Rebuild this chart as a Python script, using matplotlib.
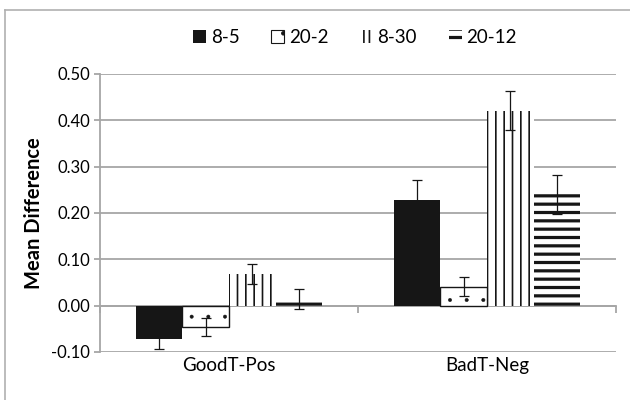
import numpy as np
import matplotlib
matplotlib.use("Agg")
from matplotlib import pyplot as plt
from matplotlib.patches import Patch
from matplotlib.lines import Line2D

# values
categories = ["GoodT-Pos", "BadT-Neg"]
series = ["8-5", "20-2", "8-30", "20-12"]
means = {
    "8-5": [-0.071, 0.229],
    "20-2": [-0.046, 0.041],
    "8-30": [0.069, 0.421],
    "20-12": [0.015, 0.240],
}
errors = {
    "8-5": [0.022, 0.043],
    "20-2": [0.020, 0.021],
    "8-30": [0.022, 0.042],
    "20-12": [0.022, 0.043],
}
yticks = [-0.10, 0.00, 0.10, 0.20, 0.30, 0.40, 0.50]

# fill / hatch per series (bar hatch, legend hatch, edge width, hatch width)
styles = {
    "8-5": dict(facecolor="#161616", hatch=None, lhatch=None, lw=0.0, hlw=1.0),
    "20-2": dict(facecolor="white", hatch=".", lhatch=".", lw=1.0, hlw=0.35),
    "8-30": dict(facecolor="white", hatch="||", lhatch="|||", lw=0.0, hlw=1.2),
    "20-12": dict(facecolor="white", hatch="--", lhatch="--", lw=0.0, hlw=2.3),
}

plt.rcParams["font.family"] = ["Lato", "DejaVu Sans"]
grid_col = "#a6a6a6"
ink = "#161616"


def set_hlw(patch, lw):
    """per-patch hatch line width, where matplotlib supports it"""
    if hasattr(patch, "set_hatch_linewidth"):
        patch.set_hatch_linewidth(lw)
    elif hasattr(patch, "_hatch_linewidth"):
        patch._hatch_linewidth = lw


def main():
    fig = plt.figure(figsize=(6.3, 4.0), dpi=100)
    ax = fig.add_axes([0.1587, 0.12, 0.8190, 0.695])

    x = np.arange(len(categories))
    width = 0.181
    offsets = (np.arange(len(series)) - 1.5) * width

    for i, name in enumerate(series):
        st = styles[name]
        with plt.rc_context({"hatch.linewidth": st["hlw"]}):
            bars = ax.bar(x + offsets[i], means[name], width,
                          color=st["facecolor"], edgecolor=ink,
                          linewidth=st["lw"], hatch=st["hatch"], zorder=2)
        for b in bars:
            set_hlw(b, st["hlw"])
        ax.errorbar(x + offsets[i], means[name], yerr=errors[name], fmt="none",
                    ecolor=ink, elinewidth=0.9, capsize=3.5, capthick=0.9,
                    zorder=3)

    ax.set_xlim(-0.5, 1.5)
    ax.set_ylim(-0.10, 0.50)
    ax.set_yticks(yticks)
    ax.set_yticklabels([f"{v:.2f}" for v in yticks], fontsize=12)
    ax.yaxis.grid(True, color=grid_col, linewidth=1.3, zorder=0)
    ax.set_axisbelow(True)

    # spines: left gray, bottom at zero like Excel
    for s in ["top", "right"]:
        ax.spines[s].set_visible(False)
    ax.spines["left"].set_color(grid_col)
    ax.spines["left"].set_linewidth(1.3)
    ax.spines["bottom"].set_position(("data", 0))
    ax.spines["bottom"].set_color(grid_col)
    ax.spines["bottom"].set_linewidth(1.3)
    ax.spines["bottom"].set_zorder(1)
    ax.tick_params(axis="y", length=4, width=1.3, color=grid_col, pad=3)

    ax.set_xticks([-0.5, 0.5, 1.5])
    ax.set_xticklabels([])
    ax.tick_params(axis="x", which="major", length=5, width=1.3,
                   color=grid_col, direction="out")
    ax.set_xticks(x, minor=True)
    ax.set_xticklabels(categories, minor=True, fontsize=13.5)
    ax.tick_params(axis="x", which="minor", length=0, pad=37)

    ax.set_ylabel("Mean Difference", fontsize=14.5, fontweight="bold")
    ax.yaxis.set_label_coords(-0.108, 0.5)

    # legend
    handles = []
    for name in series:
        st = styles[name]
        handles.append(Patch(facecolor=st["facecolor"], edgecolor=ink,
                             linewidth=0.8 if name == "20-2" else 0.0,
                             hatch=st["lhatch"]))
    leg = fig.legend(handles, series, loc="center",
                     bbox_to_anchor=(0.5635, 0.907), ncol=4, frameon=False,
                     fontsize=13.5, handlelength=0.68, handleheight=0.68,
                     handletextpad=0.25, columnspacing=1.7)
    for p, name in zip(leg.get_patches(), series):
        set_hlw(p, max(styles[name]["hlw"], 0.8))

    # chart area border (left and top visible in the crop)
    fig.add_artist(Line2D([0.008, 0.008], [0.0, 0.975], color="#b0b0b0",
                          linewidth=1.2, transform=fig.transFigure))
    fig.add_artist(Line2D([0.008, 1.0], [0.975, 0.975], color="#b0b0b0",
                          linewidth=1.2, transform=fig.transFigure))

    fig.savefig("out.png", dpi=100)


if __name__ == "__main__":
    main()
